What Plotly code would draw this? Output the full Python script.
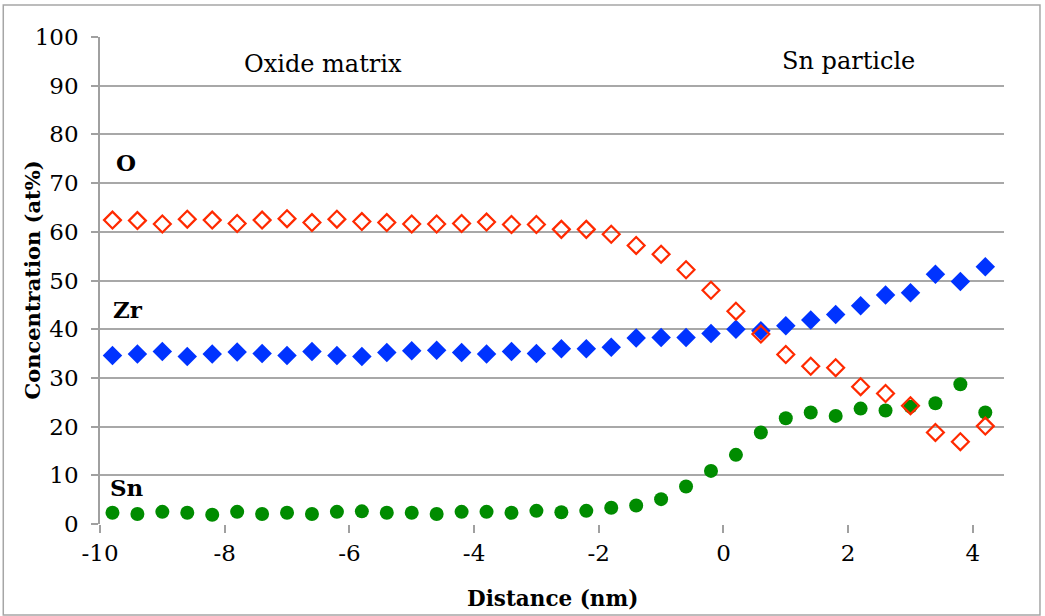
import plotly.graph_objects as go

distance = [round(-9.8 + 0.4 * i, 1) for i in range(36)]

oxygen = [62.4, 62.3, 61.6, 62.6, 62.4, 61.7, 62.4, 62.7, 61.9, 62.6, 62.1, 61.9,
          61.6, 61.6, 61.7, 62.0, 61.5, 61.5, 60.5, 60.5, 59.5, 57.2, 55.4, 52.2,
          48.0, 43.7, 39.0, 34.8, 32.4, 32.1, 28.2, 26.8, 24.3, 18.8, 16.9, 20.1]

zirconium = [34.6, 34.9, 35.4, 34.4, 34.9, 35.3, 35.0, 34.6, 35.4, 34.6, 34.4, 35.2,
             35.6, 35.7, 35.2, 34.9, 35.4, 35.0, 36.0, 36.0, 36.3, 38.2, 38.3, 38.3,
             39.1, 40.0, 39.7, 40.7, 41.9, 43.0, 44.8, 47.0, 47.5, 51.3, 49.8, 52.8]

tin = [2.3, 2.05, 2.5, 2.3, 1.9, 2.5, 2.05, 2.3, 2.05, 2.5, 2.6, 2.3,
       2.3, 2.05, 2.5, 2.5, 2.3, 2.7, 2.4, 2.7, 3.35, 3.8, 5.1, 7.7,
       10.9, 14.2, 18.8, 21.7, 22.9, 22.2, 23.7, 23.3, 24.1, 24.8, 28.7, 22.9]

x_ticks = [-10, -8, -6, -4, -2, 0, 2, 4]
y_ticks = [0, 10, 20, 30, 40, 50, 60, 70, 80, 90, 100]

FONT = "DejaVu Serif"

fig = go.Figure()
fig.add_trace(go.Scatter(x=distance, y=tin, mode="markers", name="Sn",
                         marker=dict(symbol="circle", size=14, color="#008c00")))
fig.add_trace(go.Scatter(x=distance, y=zirconium, mode="markers", name="Zr",
                         marker=dict(symbol="diamond", size=15, color="#0033ff")))
fig.add_trace(go.Scatter(x=distance, y=oxygen, mode="markers", name="O",
                         marker=dict(symbol="diamond-open", size=13, color="#ff2a00",
                                     line=dict(width=2.2, color="#ff2a00"))))

ann = [
    dict(x=-6.42, y=94.5, text="Oxide matrix", font=dict(size=24)),
    dict(x=2.01, y=95.0, text="Sn particle", font=dict(size=24)),
    dict(x=-9.58, y=74.3, text="<b>O</b>", font=dict(size=23)),
    dict(x=-9.55, y=44.1, text="<b>Zr</b>", font=dict(size=23)),
    dict(x=-9.57, y=7.4, text="<b>Sn</b>", font=dict(size=23)),
]
for a in ann:
    a.update(xref="x", yref="y", showarrow=False, xanchor="center", yanchor="middle")
    a["font"].update(family=FONT, color="black")

ann.append(dict(xref="paper", yref="paper", x=-0.0752, y=0.5, textangle=-90,
                text="<b>Concentration (at%)</b>", showarrow=False,
                xanchor="center", yanchor="middle",
                font=dict(family=FONT, size=21, color="black")))
ann.append(dict(xref="paper", yref="paper", x=0.5, y=-0.152,
                text="<b>Distance (nm)</b>", showarrow=False,
                xanchor="center", yanchor="middle",
                font=dict(family=FONT, size=21.5, color="black")))

fig.update_layout(
    width=1045, height=616,
    margin=dict(l=100, r=41, t=37, b=92),
    paper_bgcolor="white", plot_bgcolor="white",
    showlegend=False,
    font=dict(family=FONT, size=23, color="black"),
    annotations=ann,
    shapes=[dict(type="rect", xref="paper", yref="paper",
                 x0=-0.107, x1=1.0398, y0=-0.187, y1=1.0657,
                 line=dict(color="#a6a6a6", width=1.5), layer="below")],
)
fig.update_xaxes(
    range=[-10, 4.5], tickvals=x_ticks, ticktext=[str(v) for v in x_ticks],
    tickfont=dict(family=FONT, size=23),
    showgrid=False, zeroline=False, showline=False,
    ticks="outside", ticklen=8, tickcolor="#a0a0a0", tickwidth=1.5,
)
fig.update_yaxes(
    range=[0, 100], tickvals=y_ticks,
    tickfont=dict(family=FONT, size=23),
    ticklabelstandoff=8,
    showgrid=True, gridcolor="#a8a8a8", gridwidth=1.5,
    zeroline=False, showline=True, linecolor="#a0a0a0", linewidth=1.5,
    ticks="outside", ticklen=7, tickcolor="#a0a0a0", tickwidth=1.5,
)

fig.write_html("out.html")
